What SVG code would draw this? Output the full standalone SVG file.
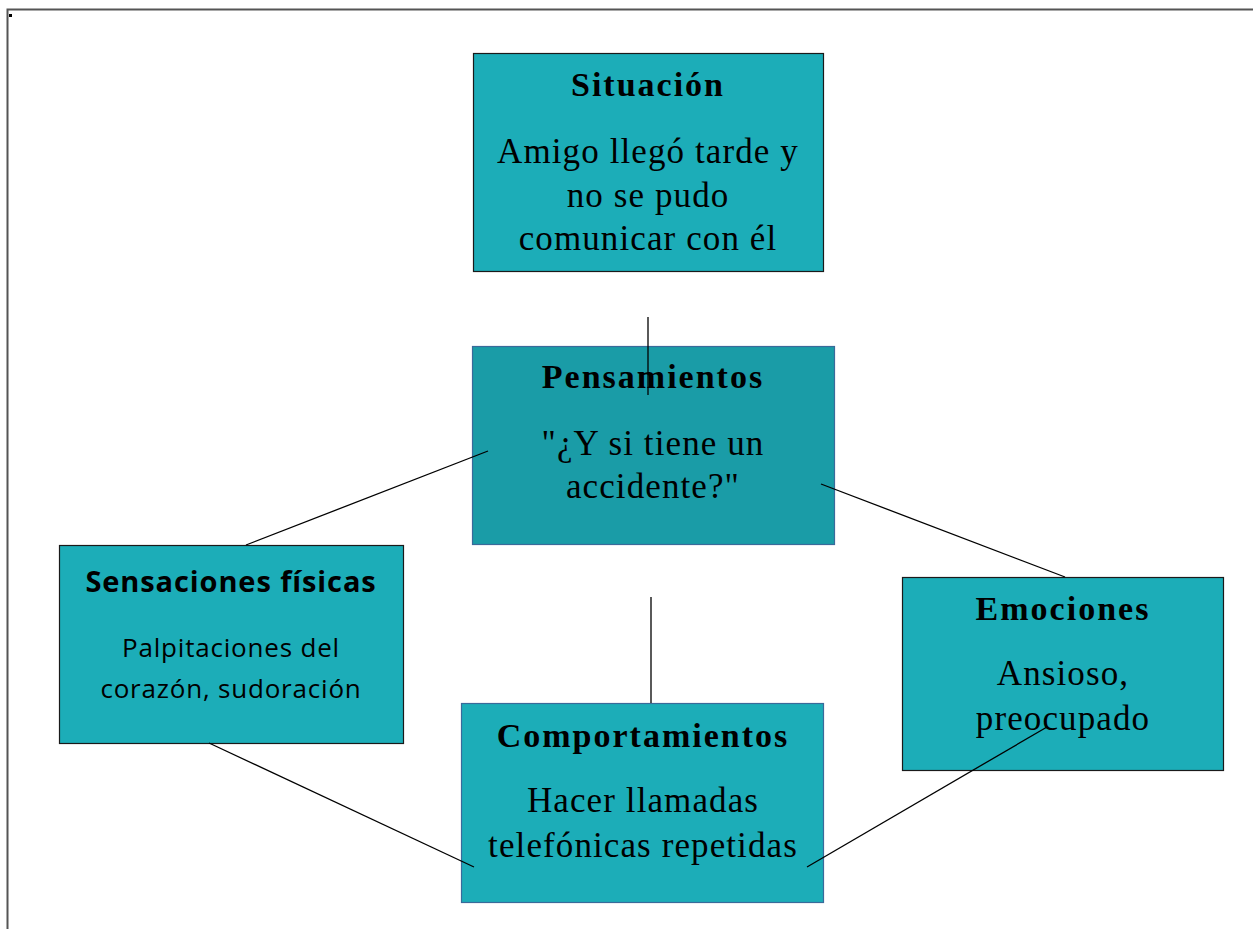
<svg xmlns="http://www.w3.org/2000/svg" width="1253" height="929" viewBox="0 0 1253 929">
<style>
.box{fill:#1cadb8;stroke:#1a1a1a;stroke-width:1.2}
.boxb{fill:#1cadb8;stroke:#3a6a9a;stroke-width:1.2}
.t{font-family:"Liberation Serif",serif;font-weight:bold;font-size:34px;letter-spacing:2px;fill:#000;text-anchor:middle}
.b{font-family:"Liberation Serif",serif;font-size:35px;letter-spacing:1.1px;fill:#000;text-anchor:middle}
.ts{font-family:"Open Sans","Liberation Sans",sans-serif;font-weight:bold;font-size:29px;letter-spacing:0.9px;fill:#000;text-anchor:middle}
.bs{font-family:"Open Sans","Liberation Sans",sans-serif;font-size:26px;letter-spacing:0.8px;fill:#000;text-anchor:middle}
.c{stroke:#000;stroke-width:1.3;fill:none}
</style>
<rect x="0" y="0" width="1253" height="929" fill="#fff"/>
<path d="M7.5 929 V9.5 H1253" fill="none" stroke="#555" stroke-width="2"/>
<rect x="9" y="14" width="3" height="3" fill="#000"/>
<g id="situacion">
<rect class="box" x="473.5" y="53.5" width="350" height="218"/>
<text class="t" x="648" y="96">Situación</text>
<text class="b" x="648" y="163">Amigo llegó tarde y</text>
<text class="b" x="648" y="207">no se pudo</text>
<text class="b" x="648" y="250">comunicar con él</text>
</g>
<g id="pensamientos">
<rect class="boxb" x="472.5" y="346.5" width="362" height="198" style="fill:#1a9ca7"/>
<text class="t" x="653" y="388">Pensamientos</text>
<text class="b" x="653" y="455">"¿Y si tiene un</text>
<text class="b" x="653" y="498">accidente?"</text>
</g>
<g id="sensaciones">
<rect class="box" x="59.5" y="545.5" width="344" height="198"/>
<text class="ts" x="231" y="592">Sensaciones físicas</text>
<text class="bs" x="231" y="657">Palpitaciones del</text>
<text class="bs" x="231" y="698">corazón, sudoración</text>
</g>
<g id="comportamientos">
<rect class="boxb" x="461.5" y="703.5" width="362" height="199"/>
<text class="t" x="643" y="747">Comportamientos</text>
<text class="b" x="643" y="812">Hacer llamadas</text>
<text class="b" x="643" y="857">telefónicas repetidas</text>
</g>
<g id="emociones">
<rect class="box" x="902.5" y="577.5" width="321" height="193"/>
<text class="t" x="1063" y="620">Emociones</text>
<text class="b" x="1063" y="685">Ansioso,</text>
<text class="b" x="1063" y="730">preocupado</text>
</g>
<g id="connectors">
<line class="c" x1="648" y1="317" x2="648" y2="395"/>
<line class="c" x1="488" y1="451" x2="246" y2="545"/>
<line class="c" x1="821" y1="484" x2="1065" y2="577"/>
<line class="c" x1="651" y1="597" x2="651" y2="703"/>
<line class="c" x1="209" y1="743" x2="474" y2="867"/>
<line class="c" x1="807" y1="867" x2="1047" y2="727"/>
</g>
</svg>
